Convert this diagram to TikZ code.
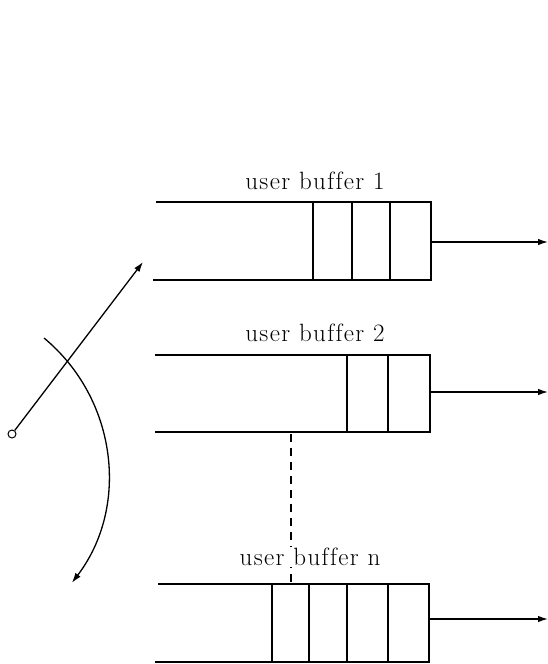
\documentclass[tikz,border=0pt]{standalone}
\usepackage{fontspec}
\usetikzlibrary{arrows.meta}
\newfontfamily\lblfont{Latin Modern Roman}[LetterSpace=5.5,Ligatures=NoCommon]
\begin{document}
\begin{tikzpicture}[x=1pt,y=-1pt,
  wire/.style={line width=1.3pt},
  outarrow/.style={wire,-{Latex[length=10pt,width=6.5pt]}},
  lbl/.style={font=\lblfont\fontsize{25}{30}\selectfont, inner sep=1pt},
  dashline/.style={line width=1.2pt, dash pattern=on 8pt off 6pt}]
\useasboundingbox (0,0) rectangle (548,664);

% buffer 1
\coordinate (b1tl) at (156,202);
\coordinate (b1bl) at (153,280);
\coordinate (b1tr) at (431,202);
\coordinate (b1br) at (431,280);
\draw[wire] (b1tl) -- (b1tr) -- (b1br) -- (b1bl);
\foreach \x in {313,352,390} \draw[wire] (\x,202) -- (\x,280);
\coordinate (b1out) at (431,242);
\coordinate (b1end) at (548,242);
\draw[outarrow] (b1out) -- (b1end);
\node[lbl] (l1) at (315,181) {user buffer 1};

% buffer 2
\coordinate (b2tl) at (155,355);
\coordinate (b2bl) at (155,432);
\coordinate (b2tr) at (430,355);
\coordinate (b2br) at (430,432);
\draw[wire] (b2tl) -- (b2tr) -- (b2br) -- (b2bl);
\foreach \x in {347,388} \draw[wire] (\x,355) -- (\x,432);
\coordinate (b2out) at (430,392);
\coordinate (b2end) at (548,392);
\draw[outarrow] (b2out) -- (b2end);
\node[lbl] (l2) at (315,333) {user buffer 2};

% buffer n
\coordinate (bntl) at (158,584);
\coordinate (bnbl) at (155,662);
\coordinate (bntr) at (429,584);
\coordinate (bnbr) at (429,662);
\draw[wire] (bntl) -- (bntr) -- (bnbr) -- (bnbl);
\foreach \x in {272,309,347,388} \draw[wire] (\x,584) -- (\x,662);
\coordinate (bnout) at (429,619);
\coordinate (bnend) at (548,619);
\draw[outarrow] (bnout) -- (bnend);

% dashed continuation between buffer 2 and buffer n
\coordinate (dtop) at (291,434);
\coordinate (dbot) at (291,582);
\draw[dashline] (dtop) -- (dbot);
\node[lbl, fill=white] (ln) at (310,557) {user buffer n};

% selector switch
\node[circle, draw, line width=1pt, minimum size=8pt, inner sep=0pt] (pivot) at (12,434) {};
\coordinate (sel) at (143,262);
\draw[outarrow] (pivot) -- (sel);
\coordinate (arcstart) at (44,338);
\draw[outarrow] (arcstart) arc[start angle=50.3, end angle=-37.3, radius=178pt];
\end{tikzpicture}
\end{document}
